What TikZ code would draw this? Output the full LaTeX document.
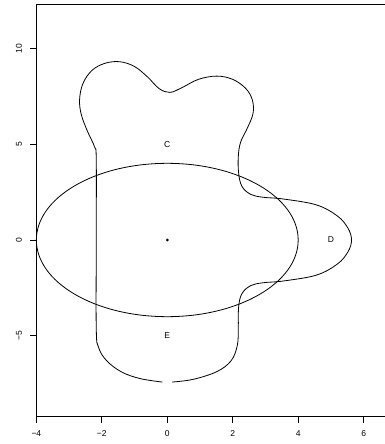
\documentclass[tikz,border=0pt]{standalone}
\usepackage{fontspec}
\setmainfont{Liberation Sans}
\begin{document}
\begin{tikzpicture}[x=32.73pt,y=19.17pt,
  curve/.style={line width=0.8pt,black},
  axisline/.style={line width=0.8pt,black},
  ticklab/.style={font=\fontsize{8.5}{10}\selectfont,inner sep=0pt},
  reglab/.style={font=\fontsize{8.5}{10}\selectfont,inner sep=0pt}]
\useasboundingbox (-5.111,-10.642) rectangle (6.651,12.52);
% frame
\draw[axisline] (7,12.28) -- (-4,12.28) -- (-4,-9.18) -- (7,-9.18);
% x ticks
\foreach \v/\t in {-4/{−4},-2/{−2},0/0,2/2,4/4,6/6}{
  \draw[axisline] (\v,-9.18) -- (\v,-9.55);
  \node[ticklab] (xl\v) at (\v,-10.12) {\t};
}
% y ticks
\foreach \v/\t in {-5/{−5},0/0,5/5,10/10}{
  \draw[axisline] (-4,\v) -- (-4.2,\v);
  \node[ticklab,rotate=90] (yl\v) at (-4.53,\v) {\t};
}
% ellipse
\draw[curve] (0,0) ellipse [x radius=4, y radius=4];
% centre dot
\node[circle,fill=black,inner sep=0pt,minimum size=3pt] (ctr) at (0,0) {};
% blob
\draw[curve] plot[smooth,tension=0.6] coordinates {
(0.15,-7.41) (0.79,-7.27) (1.51,-6.87) (1.95,-6.3) (2.14,-5.5) (2.17,-4.6) (2.18,-3.5) (2.28,-2.8) (2.55,-2.38) (2.93,-2.23) (3.54,-2.14) (4.56,-1.83) (5.2,-1.25) (5.52,-0.62) (5.63,0)
(5.52,0.62) (5.2,1.25) (4.56,1.83) (3.54,2.14) (2.93,2.23) (2.55,2.38) (2.28,2.8) (2.18,3.5) (2.17,4.35) (2.24,5.1) (2.45,5.85) (2.62,6.6) (2.6,7.3) (2.4,7.9) (2.0,8.38) (1.51,8.55) (0.95,8.38) (0.45,7.95) (0.08,7.70) (-0.25,7.9) (-0.6,8.5) (-1.0,9.05) (-1.45,9.30) (-1.9,9.22) (-2.3,8.85) (-2.58,8.15) (-2.68,7.3) (-2.62,6.5) (-2.42,5.6) (-2.22,4.85) (-2.17,4.2) (-2.17,0) (-2.17,-4.6) (-2.1,-5.6) (-1.85,-6.3) (-1.4,-6.88) (-0.83,-7.23) (-0.15,-7.41)};
% labels
\node[reglab] (C) at (0,5) {C};
\node[reglab] (D) at (5,0) {D};
\node[reglab] (E) at (0,-5) {E};
\end{tikzpicture}
\end{document}
